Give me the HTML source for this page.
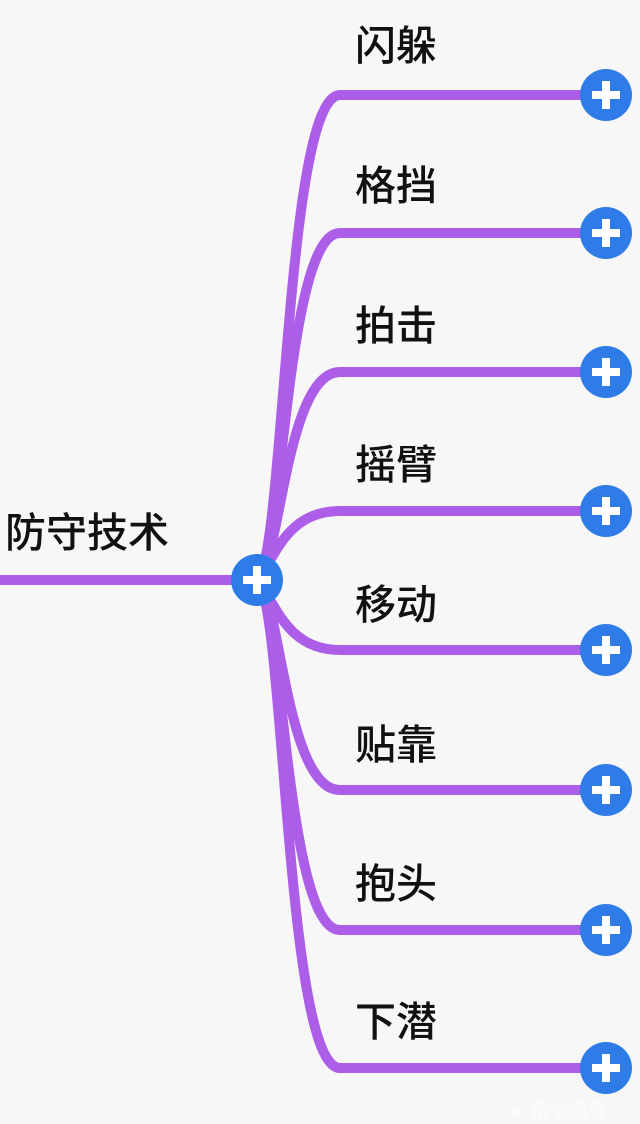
<!DOCTYPE html>
<html><head><meta charset="utf-8"><style>
body{margin:0;background:#f7f7f7;width:640px;height:1124px;overflow:hidden;position:relative;font-family:"Liberation Sans","Noto Sans CJK SC",sans-serif}
.t{position:absolute;font-size:41px;color:#111;font-weight:500;line-height:1}
</style></head><body>
<svg width="640" height="1124" style="position:absolute;left:0;top:0">
<g fill="none" stroke="#ad5ee8" stroke-width="10" stroke-linecap="round">
<path d="M0,580 H257"/>
<path d="M257,580 C285,560 285,95 340,95 H606"/>
<path d="M257,580 C283,565 285,233 340,233 H606"/>
<path d="M257,580 C280,570 285,372 340,372 H606"/>
<path d="M257,580 C275,560 285,511 340,511 H606"/>
<path d="M257,580 C275,600 285,650 340,650 H606"/>
<path d="M257,580 C280,590 285,790 340,790 H606"/>
<path d="M257,580 C283,595 285,930 340,930 H606"/>
<path d="M257,580 C285,600 285,1068 340,1068 H606"/>
</g>
<g fill="#2f7be8">
<circle cx="257" cy="580" r="26"/>
<circle cx="606" cy="95" r="26"/><circle cx="606" cy="233" r="26"/><circle cx="606" cy="372" r="26"/><circle cx="606" cy="511" r="26"/>
<circle cx="606" cy="650" r="26"/><circle cx="606" cy="790" r="26"/><circle cx="606" cy="930" r="26"/><circle cx="606" cy="1068" r="26"/>
</g>
<g fill="#fff">
<rect x="243" y="576" width="28" height="8"/><rect x="253" y="566" width="8" height="28"/>
<g id="p"><rect x="592" y="91" width="28" height="8"/><rect x="602" y="81" width="8" height="28"/></g>
<use href="#p" y="138"/><use href="#p" y="277"/><use href="#p" y="416"/><use href="#p" y="555"/><use href="#p" y="695"/><use href="#p" y="835"/><use href="#p" y="973"/>
</g>
</svg>
<div class="t" style="left:5px;top:513px">防守技术</div>
<div class="t" style="left:355px;top:26px">闪躲</div>
<div class="t" style="left:355px;top:166px">格挡</div>
<div class="t" style="left:355px;top:306px">拍击</div>
<div class="t" style="left:355px;top:445px">摇臂</div>
<div class="t" style="left:355px;top:585px">移动</div>
<div class="t" style="left:355px;top:725px">贴靠</div>
<div class="t" style="left:355px;top:864px">抱头</div>
<div class="t" style="left:355px;top:1002px">下潜</div>
<div style="position:absolute;left:512px;top:1096px;font-size:19px;color:#fff;opacity:.7">∞ 悟空问答</div>
</body></html>
